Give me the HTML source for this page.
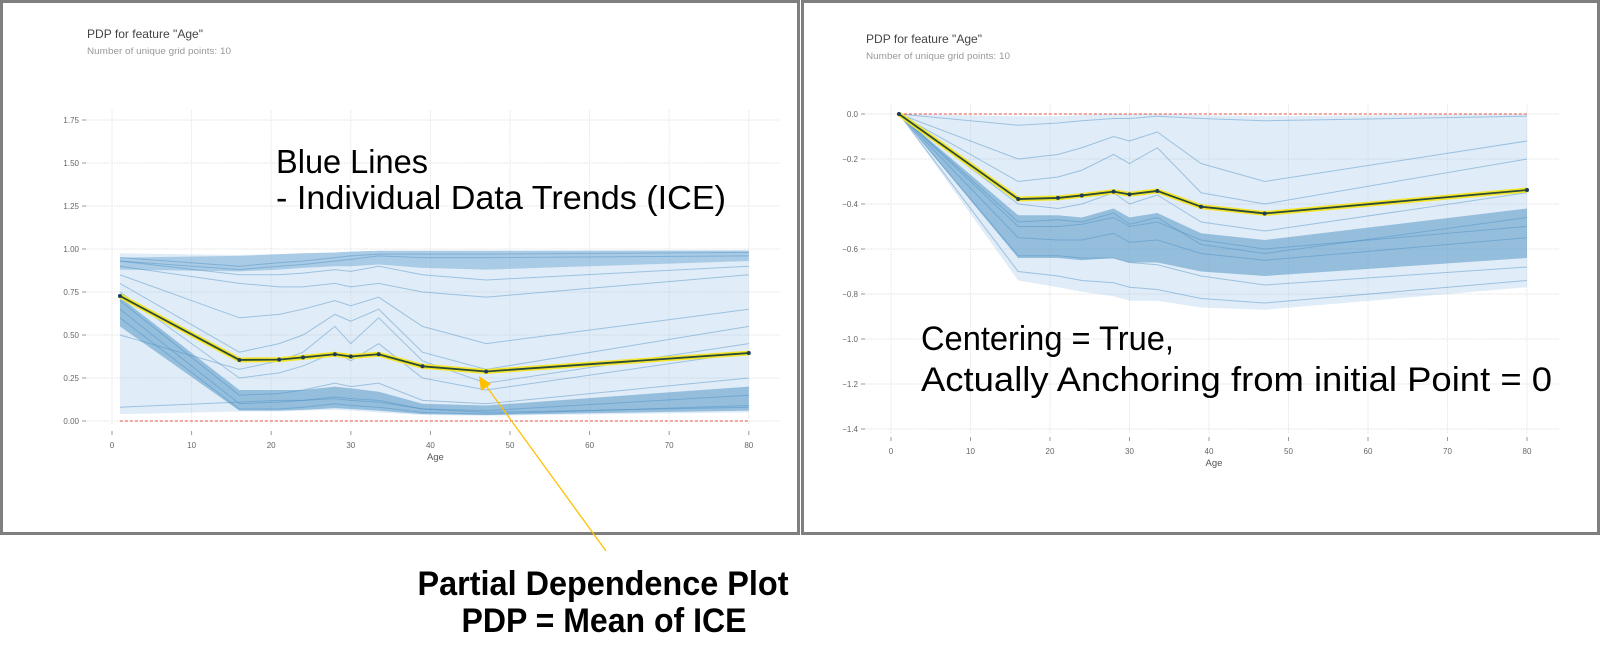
<!DOCTYPE html>
<html><head><meta charset="utf-8">
<style>
html,body{margin:0;padding:0;background:#fff;}
svg{display:block;font-family:"Liberation Sans",sans-serif;}
</style></head>
<body>
<svg id="root" width="1601" height="671" viewBox="0 0 1601 671" xmlns="http://www.w3.org/2000/svg">
  <rect x="1.5" y="1.5" width="797" height="532" fill="#fff" stroke="#7f7f7f" stroke-width="3"/>
  <rect x="802.5" y="1.5" width="796" height="532" fill="#fff" stroke="#7f7f7f" stroke-width="3"/>
  <g id="left"></g>
  <g id="right"></g>

  <text x="87" y="38" font-size="12" fill="#444" textLength="116" lengthAdjust="spacingAndGlyphs">PDP for feature "Age"</text>
  <text x="87" y="54" font-size="9.5" fill="#999" textLength="144" lengthAdjust="spacingAndGlyphs">Number of unique grid points: 10</text>
  <text x="866" y="43" font-size="12" fill="#444" textLength="116" lengthAdjust="spacingAndGlyphs">PDP for feature "Age"</text>
  <text x="866" y="59" font-size="9.5" fill="#999" textLength="144" lengthAdjust="spacingAndGlyphs">Number of unique grid points: 10</text>

  <text x="276" y="173" font-size="33" fill="#000" textLength="152" lengthAdjust="spacingAndGlyphs">Blue Lines</text>
  <text x="276" y="209" font-size="33" fill="#000" textLength="450" lengthAdjust="spacingAndGlyphs">- Individual Data Trends (ICE)</text>
  <text x="921" y="350" font-size="34" fill="#000" textLength="253" lengthAdjust="spacingAndGlyphs">Centering = True,</text>
  <text x="921" y="391" font-size="34" fill="#000" textLength="631" lengthAdjust="spacingAndGlyphs">Actually Anchoring from initial Point = 0</text>

  <line x1="606" y1="551" x2="484" y2="383" stroke="#FFC000" stroke-width="1.3"/>
  <polygon points="479,376 481,391 491,384" fill="#FFC000"/>
  <text x="603" y="595" font-size="34" font-weight="bold" fill="#000" text-anchor="middle" textLength="371" lengthAdjust="spacingAndGlyphs">Partial Dependence Plot</text>
  <text x="604" y="632" font-size="34" font-weight="bold" fill="#000" text-anchor="middle" textLength="285" lengthAdjust="spacingAndGlyphs">PDP = Mean of ICE</text>
</svg>
<script>
const NS="http://www.w3.org/2000/svg";
const ages=[1,16,21,24,28,30,33.5,39,47,80];
const xTicks=[0,10,20,30,40,50,60,70,80];
const leftYTicks=[0,0.25,0.5,0.75,1.0,1.25,1.5,1.75];
const leftYLabels=["0.00","0.25","0.50","0.75","1.00","1.25","1.50","1.75"];
const rightYTicks=[0,-0.2,-0.4,-0.6,-0.8,-1.0,-1.2,-1.4];
const rightYLabels=["0.0","\u22120.2","\u22120.4","\u22120.6","\u22120.8","\u22121.0","\u22121.2","\u22121.4"];

const leftPdp=[0.727,0.355,0.357,0.37,0.388,0.375,0.388,0.318,0.288,0.395];
const leftUpper=[0.975,0.965,0.97,0.975,0.98,0.985,0.99,0.99,0.99,0.995];
const leftLower=[0.04,0.055,0.055,0.06,0.065,0.06,0.05,0.035,0.03,0.05];
const leftCoreHi=[0.72,0.18,0.18,0.18,0.2,0.19,0.17,0.1,0.09,0.2];
const leftCoreLo=[0.55,0.06,0.06,0.065,0.075,0.07,0.06,0.04,0.035,0.06];
const leftTopHi=[0.95,0.96,0.97,0.975,0.98,0.985,0.99,0.99,0.99,0.99];
const leftTopLo=[0.88,0.87,0.88,0.89,0.9,0.9,0.91,0.89,0.88,0.93];
const leftIce=[
 [0.95,0.90,0.92,0.93,0.95,0.96,0.97,0.97,0.97,0.98],
 [0.93,0.88,0.90,0.91,0.93,0.94,0.96,0.95,0.95,0.96],
 [0.90,0.80,0.78,0.78,0.80,0.78,0.80,0.75,0.72,0.85],
 [0.85,0.60,0.62,0.65,0.70,0.67,0.72,0.55,0.45,0.65],
 [0.80,0.40,0.45,0.50,0.62,0.58,0.65,0.40,0.30,0.55],
 [0.75,0.25,0.28,0.32,0.40,0.35,0.45,0.25,0.18,0.40],
 [0.70,0.15,0.16,0.18,0.22,0.20,0.22,0.12,0.10,0.25],
 [0.65,0.10,0.11,0.12,0.14,0.13,0.12,0.07,0.06,0.15],
 [0.60,0.07,0.07,0.08,0.10,0.09,0.08,0.05,0.04,0.09],
 [0.08,0.11,0.12,0.12,0.13,0.12,0.11,0.07,0.05,0.08],
 [0.93,0.85,0.85,0.86,0.88,0.87,0.90,0.85,0.82,0.90],
 [0.50,0.30,0.35,0.40,0.55,0.45,0.60,0.35,0.22,0.45]
];

const rightPdp=[0,-0.378,-0.373,-0.362,-0.345,-0.357,-0.342,-0.412,-0.442,-0.338];
const rightUpper=[0,-0.01,-0.01,-0.005,0,0,0,-0.005,-0.01,0];
const rightLower=[0,-0.74,-0.77,-0.79,-0.81,-0.83,-0.83,-0.86,-0.87,-0.77];
const rightCoreHi=[0,-0.45,-0.45,-0.46,-0.42,-0.46,-0.44,-0.53,-0.56,-0.42];
const rightCoreLo=[0,-0.64,-0.64,-0.65,-0.64,-0.66,-0.66,-0.70,-0.72,-0.64];
const rightIce=[
 [0,-0.05,-0.04,-0.03,-0.02,-0.02,-0.01,-0.02,-0.03,-0.01],
 [0,-0.20,-0.18,-0.15,-0.10,-0.12,-0.08,-0.22,-0.30,-0.12],
 [0,-0.30,-0.28,-0.25,-0.18,-0.22,-0.15,-0.35,-0.40,-0.20],
 [0,-0.50,-0.50,-0.49,-0.46,-0.50,-0.48,-0.56,-0.60,-0.50],
 [0,-0.55,-0.56,-0.56,-0.53,-0.57,-0.56,-0.62,-0.65,-0.55],
 [0,-0.63,-0.63,-0.64,-0.64,-0.66,-0.67,-0.72,-0.76,-0.68],
 [0,-0.70,-0.72,-0.74,-0.75,-0.77,-0.78,-0.82,-0.84,-0.74],
 [0,-0.40,-0.42,-0.40,-0.35,-0.40,-0.36,-0.48,-0.52,-0.35],
 [0,-0.48,-0.47,-0.48,-0.44,-0.49,-0.46,-0.58,-0.62,-0.46]
];

function el(parent,tag,attrs){const e=document.createElementNS(NS,tag);for(const k in attrs)e.setAttribute(k,attrs[k]);parent.appendChild(e);return e;}

function drawChart(g,cfg){
  const xs=a=>cfg.x0+a*cfg.xPer;
  const ys=v=>cfg.y0-v*cfg.yPer;
  cfg.yTicks.forEach((t,i)=>{
    const gl=el(g,'line',{x1:cfg.gridL,x2:cfg.gridR,y1:ys(t),y2:ys(t),stroke:'#e3e3e3','stroke-width':1,'stroke-dasharray':'1.5,1'});
    
    
    const tk=el(g,'line',{x1:cfg.tickX-4,x2:cfg.tickX,y1:ys(t),y2:ys(t),stroke:'#999','stroke-width':1});
    
    
    const lb=el(g,'text',{x:cfg.tickX-7,y:ys(t)+3,'font-size':8,fill:'#666','text-anchor':'end'});
    lb.textContent=cfg.yLabels[i];
    
    
  });
  xTicks.forEach(t=>{
    const gl=el(g,'line',{x1:xs(t),x2:xs(t),y1:cfg.gridT,y2:cfg.gridB,stroke:'#e6e6e6','stroke-width':1,'stroke-dasharray':'1.5,1'});
    
    
    const tk=el(g,'line',{x1:xs(t),x2:xs(t),y1:cfg.xTickY,y2:cfg.xTickY+4,stroke:'#999','stroke-width':1});
    
    
    const lb=el(g,'text',{x:xs(t),y:cfg.xTickY+17,'font-size':8,fill:'#666','text-anchor':'middle'});
    lb.textContent=String(t);
    
    
  });
  const xt=el(g,'text',{x:xs(40)+5,y:cfg.xTickY+29,'font-size':9.5,fill:'#555','text-anchor':'middle'});
  xt.textContent='Age';
  
  

  function band(hi,lo,fill,op,name){
    let p=ages.map((a,i)=>xs(a)+','+ys(hi[i]));
    for(let i=ages.length-1;i>=0;i--)p.push(xs(ages[i])+','+ys(lo[i]));
    const b=el(g,'polygon',{points:p.join(' '),fill:fill,'fill-opacity':op});
    
    
  }
  band(cfg.upper,cfg.lower,'#9ec5e5',0.32,'ice-envelope');
  if(cfg.topHi)band(cfg.topHi,cfg.topLo,'#5b9bcb',0.4,'ice-top-cluster');
  band(cfg.coreHi,cfg.coreLo,'#4a8fc4',0.5,'ice-dense-cluster');
  cfg.ice.forEach(s=>{
    const l=el(g,'polyline',{points:ages.map((a,i)=>xs(a)+','+ys(s[i])).join(' '),fill:'none',stroke:'#4a8fc4','stroke-width':1,'stroke-opacity':0.45});
    
    
  });
  const ref=el(g,'line',{x1:xs(1),x2:xs(80),y1:ys(0),y2:ys(0),stroke:'#e8504a','stroke-width':1,'stroke-dasharray':'3,2'});
  
  
  const pts=ages.map((a,i)=>xs(a)+','+ys(cfg.pdp[i])).join(' ');
  const halo=el(g,'polyline',{points:pts,fill:'none',stroke:'#f4e52a','stroke-width':5,'stroke-linejoin':'round'});
  
  
  const pl=el(g,'polyline',{points:pts,fill:'none',stroke:'#2a4a3a','stroke-width':1.8,'stroke-linejoin':'round'});
  
  
  ages.forEach((a,i)=>{
    const c=el(g,'circle',{cx:xs(a),cy:ys(cfg.pdp[i]),r:2,fill:'#1d3c55'});
    
    
  });
}

drawChart(document.getElementById('left'),{x0:112,xPer:7.96,y0:421,yPer:172,gridL:84,gridR:780,gridT:110,gridB:425,tickX:86,xTickY:431,
  yTicks:leftYTicks,yLabels:leftYLabels,pdp:leftPdp,upper:leftUpper,lower:leftLower,coreHi:leftCoreHi,coreLo:leftCoreLo,topHi:leftTopHi,topLo:leftTopLo,ice:leftIce});
drawChart(document.getElementById('right'),{x0:891,xPer:7.95,y0:114,yPer:225,gridL:863,gridR:1559,gridT:104,gridB:433,tickX:865,xTickY:437,
  yTicks:rightYTicks,yLabels:rightYLabels,pdp:rightPdp,upper:rightUpper,lower:rightLower,coreHi:rightCoreHi,coreLo:rightCoreLo,ice:rightIce});
</script>
</body></html>
